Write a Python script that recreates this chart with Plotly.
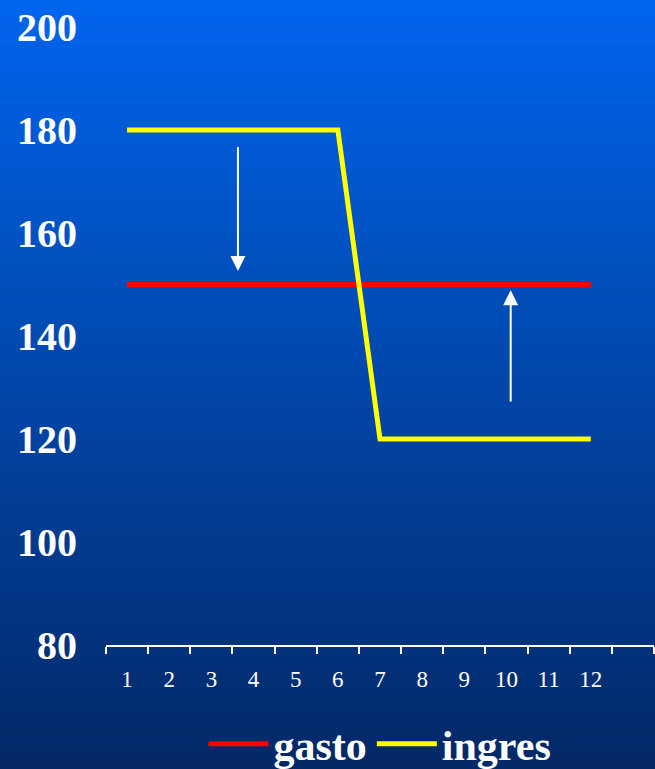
import plotly.graph_objects as go

# Months on the x axis and the two monthly series
months = list(range(1, 13))
gasto = [150] * 12
ingres = [180, 180, 180, 180, 180, 180, 120, 120, 120, 120, 120, 120]
y_ticks = [80, 100, 120, 140, 160, 180, 200]

# Arrows showing the gap between the two series: (x, tail y, head y)
arrows = [(3.63, 177, 152.6), (10.1, 127, 148.9)]

W, H = 655, 769
M_L, M_R, M_T, M_B = 106, 1, 27, 124
plot_w = W - M_L - M_R
plot_h = H - M_T - M_B

SERIF = "Liberation Serif, Times New Roman, serif"

fig = go.Figure()
fig.add_trace(go.Scatter(x=months, y=gasto, mode="lines", name="gasto",
                         line=dict(color="#ff0000", width=5)))
fig.add_trace(go.Scatter(x=months, y=ingres, mode="lines", name="ingres",
                         line=dict(color="#ffff00", width=5)))

# Vertical blue gradient behind the whole figure
top = (0, 101, 238)
bot = (3, 40, 102)
n = 160
shapes = []
for i in range(n):
    tm = (i + 0.5) / n
    c = tuple(round(top[k] + (bot[k] - top[k]) * tm) for k in range(3))
    py0 = i * H / n
    py1 = (i + 1) * H / n + 0.6
    shapes.append(dict(
        type="rect", xref="paper", yref="paper", layer="below",
        x0=(0 - M_L) / plot_w - 0.01, x1=(W - M_L) / plot_w + 0.01,
        y0=(H - M_B - py1) / plot_h, y1=(H - M_B - py0) / plot_h,
        fillcolor="rgb(%d,%d,%d)" % c, line=dict(width=0)))

annotations = []
for x, y_tail, y_head in arrows:
    annotations.append(dict(
        x=x, y=y_head, ax=x, ay=y_tail, xref="x", yref="y",
        axref="x", ayref="y", text="", showarrow=True,
        arrowhead=2, arrowsize=1.5, arrowwidth=2, arrowcolor="white"))

fig.update_layout(
    width=W, height=H,
    margin=dict(l=M_L, r=M_R, t=M_T, b=M_B, pad=0, autoexpand=False),
    paper_bgcolor="rgb(3,40,102)",
    plot_bgcolor="rgba(0,0,0,0)",
    shapes=shapes,
    annotations=annotations,
    showlegend=True,
    legend=dict(orientation="h", xref="container", yref="container",
                x=380 / W, xanchor="center",
                y=(H - 744) / H, yanchor="middle",
                font=dict(family=SERIF, size=42, color="white", weight="bold"),
                bgcolor="rgba(0,0,0,0)", itemwidth=60, tracegroupgap=0),
    xaxis=dict(
        range=[0.5, 13.5], tickvals=months, ticktext=[str(m) for m in months],
        ticks="", showgrid=False, zeroline=False,
        showline=True, linecolor="white", linewidth=2,
        tickfont=dict(family=SERIF, size=23, color="white"),
        ticklabelstandoff=12, automargin=False,
        minor=dict(tickvals=[k + 0.5 for k in range(14)], ticks="outside",
                   ticklen=7, tickwidth=2, tickcolor="white", showgrid=False),
    ),
    yaxis=dict(
        range=[80, 200], tickvals=y_ticks, ticks="", showgrid=False,
        zeroline=False, showline=False,
        tickfont=dict(family=SERIF, size=40, color="white", weight="bold"),
        ticklabelstandoff=28, automargin=False,
    ),
)

fig.write_html("out.html")
